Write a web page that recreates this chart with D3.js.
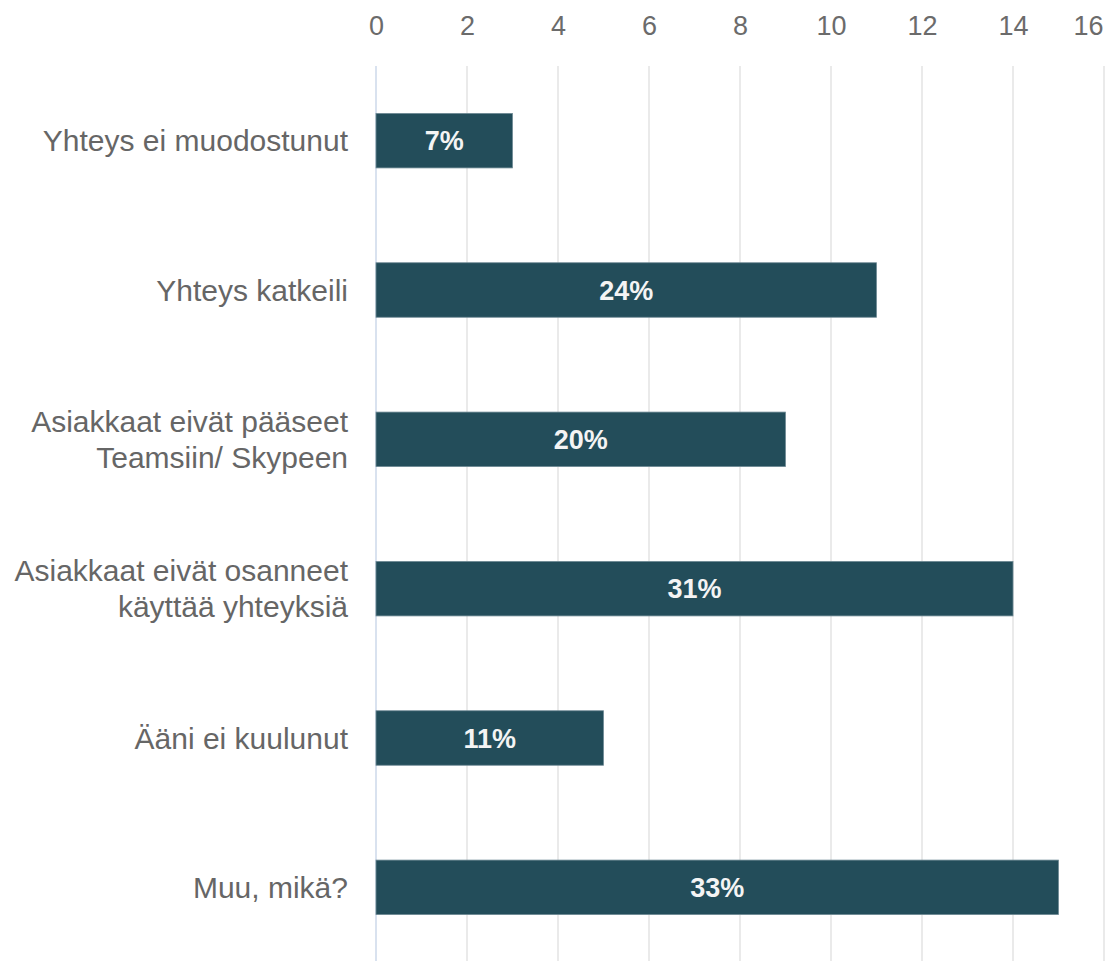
<!DOCTYPE html>
<html>
<head>
<meta charset="utf-8">
<script src="https://cdn.jsdelivr.net/npm/d3@7"></script>
<style>
  body { margin: 0; background: #fff; }
  svg { display: block; font-family: "Liberation Sans", Arial, sans-serif; }
</style>
</head>
<body>
<svg id="chart" width="1115" height="961"></svg>
<script>
// categories (each label split into lines)
var categories = [
  ["Yhteys ei muodostunut"],
  ["Yhteys katkeili"],
  ["Asiakkaat eivät pääseet", "Teamsiin/ Skypeen"],
  ["Asiakkaat eivät osanneet", "käyttää yhteyksiä"],
  ["Ääni ei kuulunut"],
  ["Muu, mikä?"]
];
var counts = [3, 11, 9, 14, 5, 15];
var percentLabels = ["7%", "24%", "20%", "31%", "11%", "33%"];
var tickValues = [0, 2, 4, 6, 8, 10, 12, 14, 16];

var svg = d3.select("#chart");
var margin = {top: 66, left: 376, right: 11, bottom: 0};
var width = 1115, height = 961;

var x = d3.scaleLinear()
  .domain([0, 16])
  .range([margin.left, width - margin.right]);

var y = d3.scaleBand()
  .domain(d3.range(categories.length))
  .range([margin.top, 962])
  .paddingInner(0.635)
  .paddingOuter(0.3175);

// grid lines
svg.append("g").selectAll("line")
  .data(tickValues)
  .enter()
  .append("line")
  .attr("x1", function(d){return x(d);})
  .attr("x2", function(d){return x(d);})
  .attr("y1", margin.top)
  .attr("y2", height)
  .attr("stroke", function(d){return d === 0 ? "#ccd9ea" : "#e3e3e3";})
  .attr("stroke-width", 1.5);

// top axis labels
var axis = svg.append("g")
  .attr("transform", "translate(0,35)")
  .call(d3.axisTop(x).tickValues(tickValues).tickSize(0).tickPadding(0));
axis.select(".domain").remove();
axis.selectAll("text")
  .attr("font-size", 27)
  .attr("fill", "#6b6b6b")
  .attr("font-family", "Liberation Sans, Arial, sans-serif");
// last label is pulled inside the edge
axis.selectAll("text")
  .filter(function(d){return d === 16;})
  .attr("text-anchor", "end")
  .attr("x", -1);

// bars
var bars = svg.append("g");
bars.selectAll("rect")
  .data(counts)
  .enter()
  .append("rect")
  .attr("x", x(0))
  .attr("y", function(d, i){return y(i);})
  .attr("width", function(d){return x(d) - x(0);})
  .attr("height", y.bandwidth())
  .attr("fill", "#234d5a")
  .attr("stroke", "#6f8a95")
  .attr("stroke-width", 0.8);

// value labels inside bars
bars.selectAll("text")
  .data(counts)
  .enter()
  .append("text")
  .attr("x", function(d){return (x(0) + x(d)) / 2;})
  .attr("y", function(d, i){return y(i) + y.bandwidth() / 2;})
  .attr("dy", "0.36em")
  .attr("text-anchor", "middle")
  .attr("font-size", 27)
  .attr("font-weight", "bold")
  .attr("fill", "#f4f4f4")
  .text(function(d, i){return percentLabels[i];});

// category labels
var labels = svg.append("g").selectAll("text")
  .data(categories)
  .enter()
  .append("text")
  .attr("text-anchor", "end")
  .attr("font-size", 30)
  .attr("fill", "#666666")
  .attr("transform", function(d, i){
    var cy = y(i) + y.bandwidth() / 2;
    return "translate(348," + cy + ")";
  });

labels.selectAll("tspan")
  .data(function(d){return d.map(function(t, j){return {t: t, j: j, n: d.length};});})
  .enter()
  .append("tspan")
  .attr("x", 0)
  .attr("y", function(d){return (d.j - (d.n - 1) / 2) * 36;})
  .attr("dy", "0.36em")
  .text(function(d){return d.t;});
</script>
</body>
</html>
